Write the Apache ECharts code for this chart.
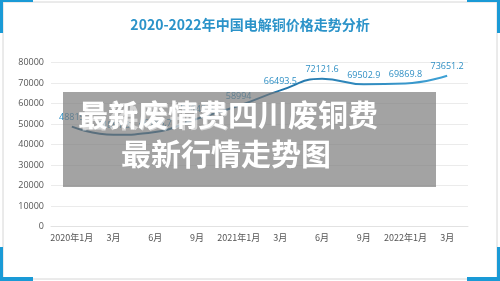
<!DOCTYPE html>
<html>
<head>
<meta charset="utf-8">
<script src="https://cdn.jsdelivr.net/npm/echarts@6/dist/echarts.min.js"></script>
<style>
  html, body { margin: 0; padding: 0; background: #fff; }
  #chart { width: 500px; height: 281px; }
</style>
</head>
<body>
<div id="chart"></div>
<script>
// 月份
var months = ['2020年1月', '3月', '6月', '9月', '2021年1月', '3月', '6月', '9月', '2022年1月', '3月'];
// 电解铜价格（元/吨）
var prices = [48815, 44851.3, 46186.7, 52648.9, 58994, 66493.5, 72121.6, 69502.9, 69869.8, 73651.2];
var yTicks = [0, 10000, 20000, 30000, 40000, 50000, 60000, 70000, 80000];

var titleText = '2020-2022年中国电解铜价格走势分析';
var bannerLine1 = '最新废情费四川废铜费';
var bannerLine2 = '最新行情走势图';

var cjk = '"Noto Sans CJK SC", "Open Sans", sans-serif';
var blue = '#1a9ad6';

var myChart = echarts.init(document.getElementById('chart'));
myChart.setOption({
    animation: false,
    backgroundColor: '#fff',
    title: {
        text: titleText,
        left: 'center',
        top: 13,
        textStyle: {
            color: '#2b93c9',
            fontSize: 14,
            fontWeight: 'bold',
            fontFamily: cjk
        }
    },
    grid: {
        left: 51,
        right: 32,
        top: 62.7,
        bottom: 54.3
    },
    xAxis: {
        type: 'category',
        data: months,
        boundaryGap: true,
        axisTick: { show: false },
        axisLine: { lineStyle: { color: '#e2e2e2', width: 1 } },
        axisLabel: { color: '#555', fontSize: 9, fontFamily: cjk, margin: 6, interval: 0 }
    },
    yAxis: {
        type: 'value',
        min: yTicks[0],
        max: yTicks[yTicks.length - 1],
        interval: 10000,
        axisLine: { show: false },
        axisTick: { show: false },
        axisLabel: {
            color: '#555', fontSize: 9, fontFamily: '"Open Sans", sans-serif', margin: 7,
            formatter: function (v) { return String(v); }
        },
        splitLine: { lineStyle: { color: '#ebebeb', width: 1 } }
    },
    series: [{
        type: 'line',
        data: prices,
        smooth: true,
        symbol: 'circle',
        symbolSize: 1,
        showSymbol: true,
        itemStyle: { color: 'rgba(0,0,0,0)' },
        lineStyle: {
            width: 2,
            color: new echarts.graphic.LinearGradient(0, 0, 1, 0, [
                { offset: 0, color: '#1c5c86' },
                { offset: 0.5, color: '#1f6fa3' },
                { offset: 1, color: '#3fa2d6' }
            ])
        },
        label: {
            show: true,
            position: 'top',
            distance: 4,
            color: '#2f8fc4',
            fontSize: 9,
            fontFamily: '"Open Sans", sans-serif',
            formatter: function (p) { return String(p.value); }
        }
    }],
    graphic: [
        // 外框
        { type: 'rect', z: 1, shape: { x: 3, y: 2, width: 494, height: 277 }, style: { fill: 'none', stroke: '#d6d6d6', lineWidth: 1 } },
        // 四角蓝色装饰
        { type: 'rect', z: 2, shape: { x: 0, y: 0, width: 3, height: 33 }, style: { fill: blue } },
        { type: 'rect', z: 2, shape: { x: 0, y: 0, width: 33, height: 2 }, style: { fill: blue } },
        { type: 'rect', z: 2, shape: { x: 497, y: 0, width: 3, height: 33 }, style: { fill: blue } },
        { type: 'rect', z: 2, shape: { x: 467, y: 0, width: 33, height: 2 }, style: { fill: blue } },
        { type: 'rect', z: 2, shape: { x: 0, y: 247, width: 3, height: 34 }, style: { fill: blue } },
        { type: 'rect', z: 2, shape: { x: 0, y: 277, width: 33, height: 4 }, style: { fill: blue } },
        { type: 'rect', z: 2, shape: { x: 497, y: 247, width: 3, height: 34 }, style: { fill: blue } },
        { type: 'rect', z: 2, shape: { x: 467, y: 277, width: 33, height: 4 }, style: { fill: blue } },
        // 灰色遮罩标题
        { type: 'rect', z: 100, shape: { x: 63, y: 92, width: 373, height: 95 }, style: { fill: 'rgba(120,120,120,0.68)' } },
        {
            type: 'text', z: 101, left: 79, top: 101,
            style: { text: '吕梁废铜费', fill: 'rgba(255,255,255,0.55)', font: 'bold 30px "Noto Sans CJK SC"' }
        },
        {
            type: 'text', z: 102, left: 78, top: 100,
            style: { text: bannerLine1, fill: '#fff', font: 'bold 30px "Noto Sans CJK SC"' }
        },
        {
            type: 'text', z: 102, left: 121, top: 139,
            style: { text: bannerLine2, fill: '#fff', font: 'bold 30px "Noto Sans CJK SC"' }
        }
    ]
});
</script>
</body>
</html>
